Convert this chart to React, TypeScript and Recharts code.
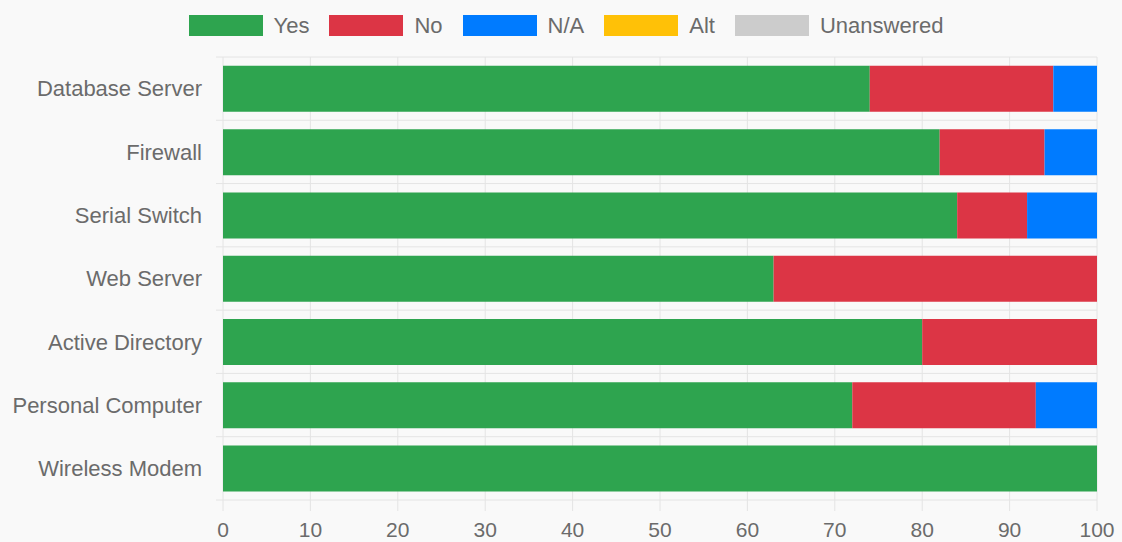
import React from 'react';
import { BarChart, Bar, XAxis, YAxis, CartesianGrid, Legend } from 'recharts';

const categories = [
  'Database Server',
  'Firewall',
  'Serial Switch',
  'Web Server',
  'Active Directory',
  'Personal Computer',
  'Wireless Modem',
];

const yesValues = [74, 82, 84, 63, 80, 72, 100];
const noValues = [21, 12, 8, 37, 20, 21, 0];
const naValues = [5, 6, 8, 0, 0, 7, 0];
const altValues = [0, 0, 0, 0, 0, 0, 0];
const unansweredValues = [0, 0, 0, 0, 0, 0, 0];

const xTicks = [0, 10, 20, 30, 40, 50, 60, 70, 80, 90, 100];

const series = [
  { key: 'yes', label: 'Yes', color: '#2ea44f' },
  { key: 'no', label: 'No', color: '#dc3545' },
  { key: 'na', label: 'N/A', color: '#007bff' },
  { key: 'alt', label: 'Alt', color: '#ffc107' },
  { key: 'unanswered', label: 'Unanswered', color: '#cccccc' },
];

const data = categories.map((name, i) => ({
  name,
  yes: yesValues[i],
  no: noValues[i],
  na: naValues[i],
  alt: altValues[i],
  unanswered: unansweredValues[i],
}));

const GRID = '#e4e4e4';
const TEXT = '#6b6b6b';

const LegendBoxes = () => (
  <div style={{ display: 'flex', justifyContent: 'center', gap: 20, height: 47, paddingLeft: 10, boxSizing: 'border-box' }}>
    {series.map((s) => (
      <div key={s.key} style={{ display: 'flex', alignItems: 'center', height: 21, marginTop: 5 }}>
        <span style={{ width: 74, height: 21, background: s.color, marginRight: 11, display: 'inline-block' }} />
        <span style={{ fontSize: 22, color: TEXT, lineHeight: '21px' }}>{s.label}</span>
      </div>
    ))}
  </div>
);

export default function App() {
  return (
    <div style={{ position: 'absolute', left: 0, top: 0, width: 1122, height: 542, background: '#f9f9f9', fontFamily: '"Liberation Sans", Arial, sans-serif' }}>
      <BarChart
        width={1122}
        height={542}
        data={data}
        layout="vertical"
        margin={{ top: 10, right: 25, bottom: 0, left: 0 }}
        barCategoryGap="14%"
      >
        <CartesianGrid
          stroke={GRID}
          horizontalCoordinatesGenerator={({ offset }: any) =>
            categories.map((_, i) => offset.top + (i * offset.height) / categories.length).concat(offset.top + offset.height)
          }
          horizontal={(p: any) => <line key={p.key} x1={p.x1 - 7} x2={p.x2} y1={p.y1} y2={p.y2} stroke={GRID} />}
        />
        <XAxis
          type="number"
          domain={[0, 100]}
          ticks={xTicks}
          axisLine={false}
          tickLine={{ stroke: GRID }}
          tickSize={11}
          tickMargin={11}
          height={42}
          tick={{ fill: TEXT, fontSize: 21 }}
        />
        <YAxis
          type="category"
          dataKey="name"
          width={223}
          axisLine={false}
          tickLine={false}
          tickSize={0}
          tickMargin={21}
          tick={{ fill: TEXT, fontSize: 22 }}
        />
        <Legend verticalAlign="top" content={LegendBoxes} wrapperStyle={{ left: 0, width: 1122 }} />
        {series.map((s) => (
          <Bar key={s.key} dataKey={s.key} name={s.label} stackId="a" fill={s.color} isAnimationActive={false} />
        ))}
      </BarChart>
    </div>
  );
}
